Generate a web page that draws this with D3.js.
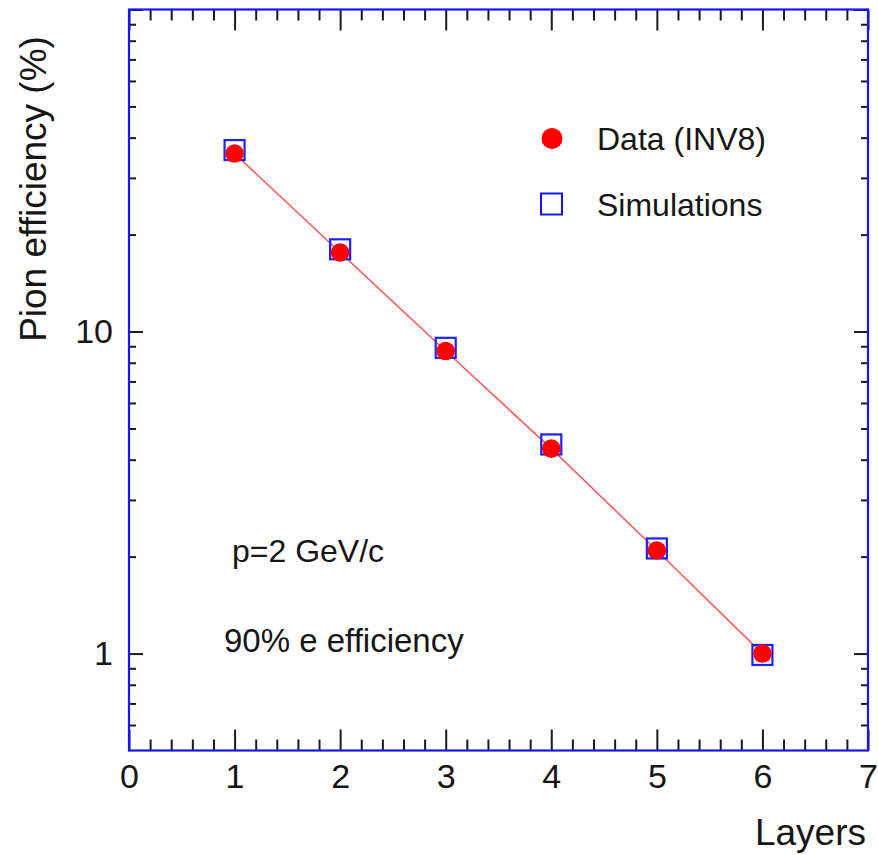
<!DOCTYPE html>
<html>
<head>
<meta charset="utf-8">
<script src="https://cdn.jsdelivr.net/npm/d3@7"></script>
<style>
  html, body { margin: 0; padding: 0; background: #ffffff; }
  svg { display: block; }
  text { font-family: "Liberation Sans", Arial, sans-serif; fill: #161616; }
</style>
</head>
<body>
<svg id="chart" width="878" height="855"></svg>
<script>
// ---- data ----
const layers = [1, 2, 3, 4, 5, 6];
const dataEff = [35.7, 17.6, 8.7, 4.33, 2.09, 1.0];      // Data (INV8)
const simEff  = [36.6, 18.0, 8.9, 4.46, 2.12, 0.99];     // Simulations
const xMajorTicks = [0, 1, 2, 3, 4, 5, 6, 7];
const xMinorTicks = d3.range(0, 35).map(i => i / 5).filter(v => Math.abs(v - Math.round(v)) > 1e-6);
const yMajorTicks = [1, 10, 100];
const yMajorLabels = ["1", "10", ""];
const yMinorTicks = [0.6, 0.7, 0.8, 0.9, 2, 3, 4, 5, 6, 7, 8, 9, 20, 30, 40, 50, 60, 70, 80, 90];
const legendLabels = ["Data (INV8)", "Simulations"];
const notes = ["p=2 GeV/c", "90% e efficiency"];
const xTitle = "Layers";
const yTitle = "Pion efficiency (%)";

// ---- layout ----
const L = 129, R = 868, T = 9.5, B = 750.5;
const svg = d3.select("#chart");
const x = d3.scaleLinear().domain([0, 7]).range([L, R]);
const y = d3.scaleLog().domain([0.5, 100]).range([B, T]);

const tickColor = "#1a1a1a";
function styleAxis(g) {
  g.select(".domain").remove();
  g.selectAll(".tick line").attr("stroke", tickColor).attr("stroke-width", 2);
  g.selectAll(".tick text").style("font-family", "'Liberation Sans', Arial, sans-serif")
    .style("font-size", "34px").attr("fill", "#161616");
}

// bottom axis (major with labels)
svg.append("g").attr("transform", `translate(0,${B})`)
  .call(d3.axisBottom(x).tickValues(xMajorTicks).tickSize(-21).tickPadding(13).tickFormat(d3.format("d")))
  .call(styleAxis);
svg.append("g").attr("transform", `translate(0,${B})`)
  .call(d3.axisBottom(x).tickValues(xMinorTicks).tickSize(-11).tickFormat(""))
  .call(styleAxis);
// top axis
svg.append("g").attr("transform", `translate(0,${T})`)
  .call(d3.axisTop(x).tickValues(xMajorTicks).tickSize(-21).tickFormat(""))
  .call(styleAxis);
svg.append("g").attr("transform", `translate(0,${T})`)
  .call(d3.axisTop(x).tickValues(xMinorTicks).tickSize(-11).tickFormat(""))
  .call(styleAxis);
// left axis
svg.append("g").attr("transform", `translate(${L},0)`)
  .call(d3.axisLeft(y).tickValues(yMajorTicks).tickSize(-14).tickPadding(16)
    .tickFormat((d, i) => yMajorLabels[i]))
  .call(styleAxis);
svg.append("g").attr("transform", `translate(${L},0)`)
  .call(d3.axisLeft(y).tickValues(yMinorTicks).tickSize(-7).tickFormat(""))
  .call(styleAxis);
// right axis
svg.append("g").attr("transform", `translate(${R},0)`)
  .call(d3.axisRight(y).tickValues(yMajorTicks).tickSize(-14).tickFormat(""))
  .call(styleAxis);
svg.append("g").attr("transform", `translate(${R},0)`)
  .call(d3.axisRight(y).tickValues(yMinorTicks).tickSize(-7).tickFormat(""))
  .call(styleAxis);

// frame
svg.append("rect").attr("x", L).attr("y", T).attr("width", R - L).attr("height", B - T)
  .attr("fill", "none").attr("stroke", "#1515ff").attr("stroke-width", 2.2);

// fit line through data
svg.append("path")
  .datum(layers.map((l, i) => [l, dataEff[i]]))
  .attr("fill", "none").attr("stroke", "#ff5c5c").attr("stroke-width", 1.6)
  .attr("d", d3.line().x(d => x(d[0])).y(d => y(d[1])));

// simulations (squares)
const sq = 20;
svg.append("g").selectAll("rect").data(layers).join("rect")
  .attr("x", (d, i) => x(d) - sq / 2).attr("y", (d, i) => y(simEff[i]) - sq / 2)
  .attr("width", sq).attr("height", sq)
  .attr("fill", "none").attr("stroke", "#2020ff").attr("stroke-width", 2.2);

// data (circles)
svg.append("g").selectAll("circle").data(layers).join("circle")
  .attr("cx", d => x(d)).attr("cy", (d, i) => y(dataEff[i])).attr("r", 9.3)
  .attr("fill", "#ff0000");

// legend
svg.append("circle").attr("cx", 552).attr("cy", 138.5).attr("r", 10.5).attr("fill", "#ff0000");
svg.append("rect").attr("x", 541).attr("y", 193.5).attr("width", 21).attr("height", 21)
  .attr("fill", "none").attr("stroke", "#1515ff").attr("stroke-width", 2);
svg.append("text").attr("x", 597).attr("y", 150).style("font-size", "32px").text(legendLabels[0]);
svg.append("text").attr("x", 597).attr("y", 216).style("font-size", "32px").text(legendLabels[1]);

// annotations
svg.append("text").attr("x", 232).attr("y", 562).style("font-size", "32px").text(notes[0]);
svg.append("text").attr("x", 224).attr("y", 652).style("font-size", "33px").text(notes[1]);

// axis titles
svg.append("text").attr("x", 866).attr("y", 845).attr("text-anchor", "end")
  .style("font-size", "37px").text(xTitle);
svg.append("text").attr("transform", "translate(46,189) rotate(-90)").attr("text-anchor", "middle")
  .style("font-size", "37px").text(yTitle);
</script>
</body>
</html>
